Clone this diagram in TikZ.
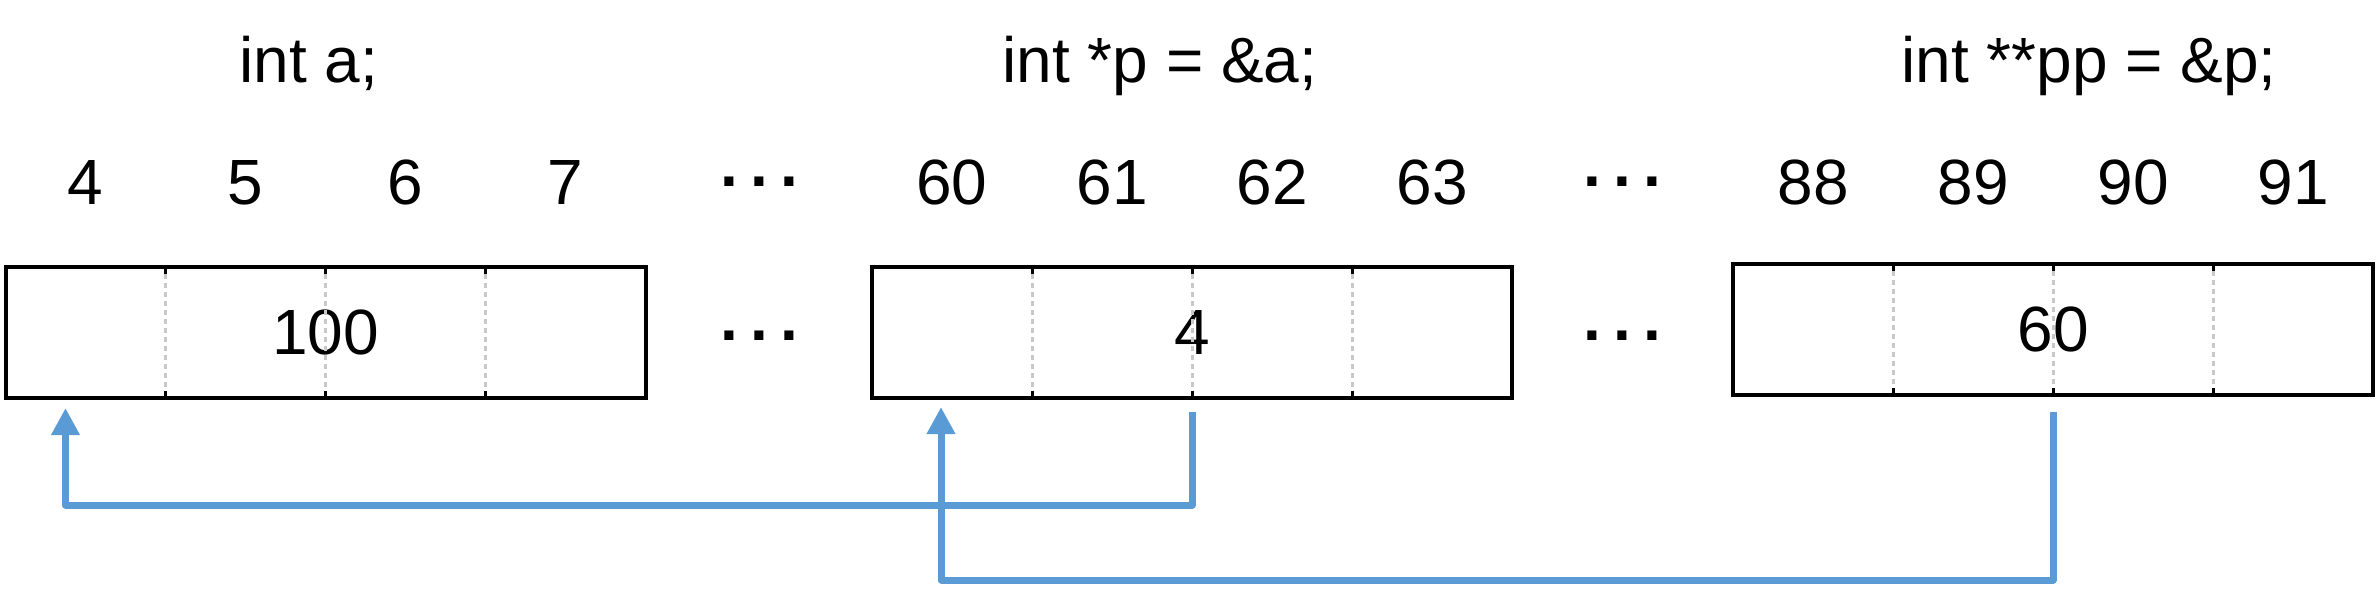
\documentclass[tikz,border=0pt]{standalone}
\usepackage{fontspec}
\setmainfont{Liberation Sans}
\usetikzlibrary{arrows.meta,calc}
\definecolor{arrowblue}{HTML}{5B9BD5}
\definecolor{divgray}{HTML}{C8C8C8}
\newcommand{\dotsrow}{.\kern3.5pt.\kern3.5pt.}
\begin{document}
\begin{tikzpicture}[x=1cm,y=1cm,
  font=\fontsize{18.2pt}{22pt}\selectfont,
  membox/.style={draw=black, line width=0.04cm, rectangle, inner sep=0pt, outer sep=0pt,
                 minimum width=6.40cm, minimum height=1.31cm},
  addr/.style={anchor=base, inner sep=0pt},
  title/.style={anchor=base, inner sep=0pt},
  ellip/.style={anchor=base, inner sep=0pt, font=\fontsize{18.2pt}{22pt}\selectfont\bfseries},
  divline/.style={draw=divgray, line width=0.03cm, dash pattern=on 0.05cm off 0.04cm},
  divend/.style={draw=black, line width=0.03cm},
  ptr/.style={draw=arrowblue, line width=0.07cm, line join=round,
              -{Triangle[length=0.27cm,width=0.27cm]}}
]
\useasboundingbox (0,0) rectangle (23.78,-5.88);

% memory boxes
\node[membox] (a)  at (3.255,-3.325) {100};
\node[membox] (p)  at (11.92,-3.325) {4};
\node[membox] (pp) at (20.53,-3.295) {60};

% byte dividers
\foreach \b in {a,p,pp}{
  \foreach \f in {0.25,0.5,0.75}{
    \draw[divline] ($(\b.north west)!\f!(\b.north east)+(0,-0.07)$) -- ($(\b.south west)!\f!(\b.south east)+(0,0.07)$);
    \draw[divend] ($(\b.north west)!\f!(\b.north east)+(0,-0.02)$) -- ++(0,-0.05);
    \draw[divend] ($(\b.south west)!\f!(\b.south east)+(0,0.02)$) -- ++(0,0.05);
  }
}

% declarations
\node[title] (ta)  at (3.09,-0.82)  {int a;};
\node[title] (tp)  at (11.60,-0.82) {int *p = \&a;};
\node[title] (tpp) at (20.89,-0.82) {int **pp = \&p;};

% addresses
\foreach \t/\x in {4/0.85,5/2.45,6/4.05,7/5.65,60/9.52,61/11.12,62/12.72,63/14.32,88/18.13,89/19.73,90/21.33,91/22.93}
  \node[addr] (ad\t) at (\x,-2.04) {\t};

% ellipses
\node[ellip] (d1) at (7.59,-1.86)  {\dotsrow};
\node[ellip] (d2) at (16.22,-1.86) {\dotsrow};
\node[ellip] (d3) at (7.59,-3.40)  {\dotsrow};
\node[ellip] (d4) at (16.22,-3.40) {\dotsrow};

% pointers
\coordinate (s1) at ($(p.south)+(0,-0.14)$);
\coordinate (e1) at ($(a.south west)+(0.60,-0.10)$);
\draw[ptr] (s1) -- ++(0,-0.93) -| (e1);

\coordinate (s2) at ($(pp.south)+(0,-0.17)$);
\coordinate (e2) at ($(p.south west)+(0.69,-0.09)$);
\draw[ptr] (s2) -- ++(0,-1.68) -| (e2);
\end{tikzpicture}
\end{document}
